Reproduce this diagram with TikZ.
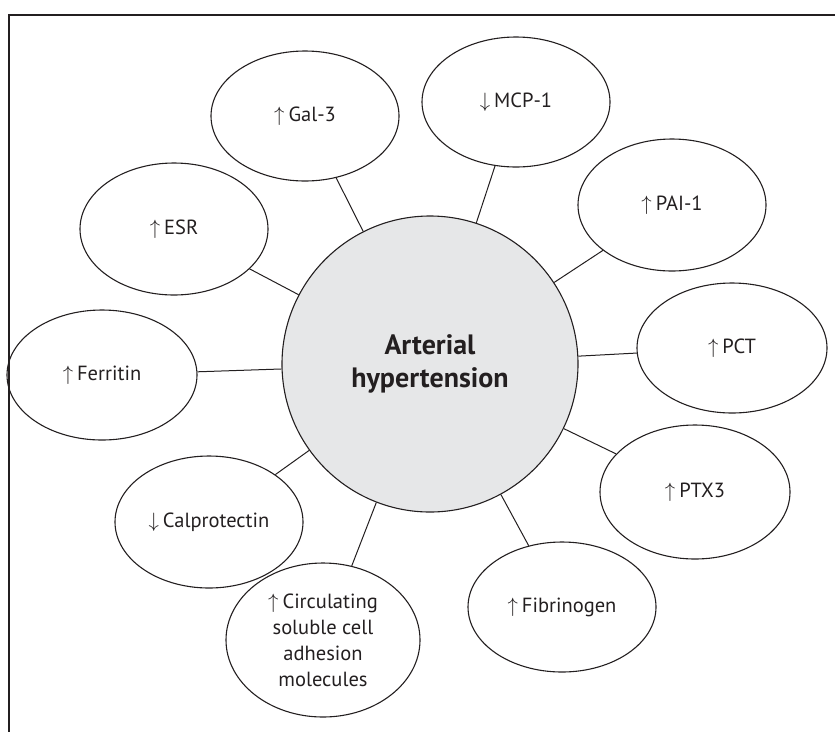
\documentclass[tikz,border=0pt]{standalone}
\usepackage{fontspec}
\setmainfont{PT Sans}
\usetikzlibrary{shapes.geometric}
\definecolor{ink}{HTML}{231F20}
\definecolor{hub}{HTML}{E6E7E8}
\newcommand{\upar}{\(\uparrow\)\hspace{4pt}}
\newcommand{\dnar}{\(\downarrow\)\hspace{4pt}}
\tikzset{
  leaf/.style={draw=ink, line width=1.1pt, ellipse, inner sep=0pt,
    minimum width=#1*2pt, text=ink, align=center, font=\fontsize{20.5}{26}\selectfont},
  leaf/.default=94,
  hubnode/.style={draw=ink, line width=1.1pt, circle, fill=hub, minimum size=296pt,
    inner sep=0pt, align=center, text=ink, font=\fontsize{28}{33}\selectfont\bfseries},
  link/.style={draw=ink, line width=1pt}
}
\begin{document}
\begin{tikzpicture}[x=1pt,y=-1pt]
\useasboundingbox (0,0) rectangle (835,732);
\draw[ink, line width=1.2pt] (835,15) -- (9,15) -- (9,732);
\node[hubnode] (c) at (430,364) {Arterial\\hypertension};
\node[leaf, minimum height=130pt] (gal) at (305,116) {\upar Gal-3};
\node[leaf, minimum height=130pt] (mcp) at (516,102) {\dnar MCP-1};
\node[leaf, minimum height=132pt] (pai) at (672,205) {\upar PAI-1};
\node[leaf=95, minimum height=130pt] (pct) at (732,348) {\upar PCT};
\node[leaf=95, minimum height=134pt] (ptx) at (695,492) {\upar PTX3};
\node[leaf, minimum height=130pt] (fib) at (562,607) {\upar Fibrinogen};
\node[leaf=97, minimum height=154pt] (cir) at (323,640) {\upar Circulating\\soluble cell\\adhesion\\molecules};
\node[leaf, minimum height=132pt] (cal) at (209,522) {\dnar Calprotectin};
\node[leaf=95, minimum height=130pt] (fer) at (102,375) {\upar Ferritin};
\node[leaf, minimum height=132pt] (esr) at (174,229) {\upar ESR};
\foreach \n in {gal,mcp,pai,pct,ptx,fib,cir,cal,fer,esr}
  \draw[link] (\n) -- (c);
\end{tikzpicture}
\end{document}
